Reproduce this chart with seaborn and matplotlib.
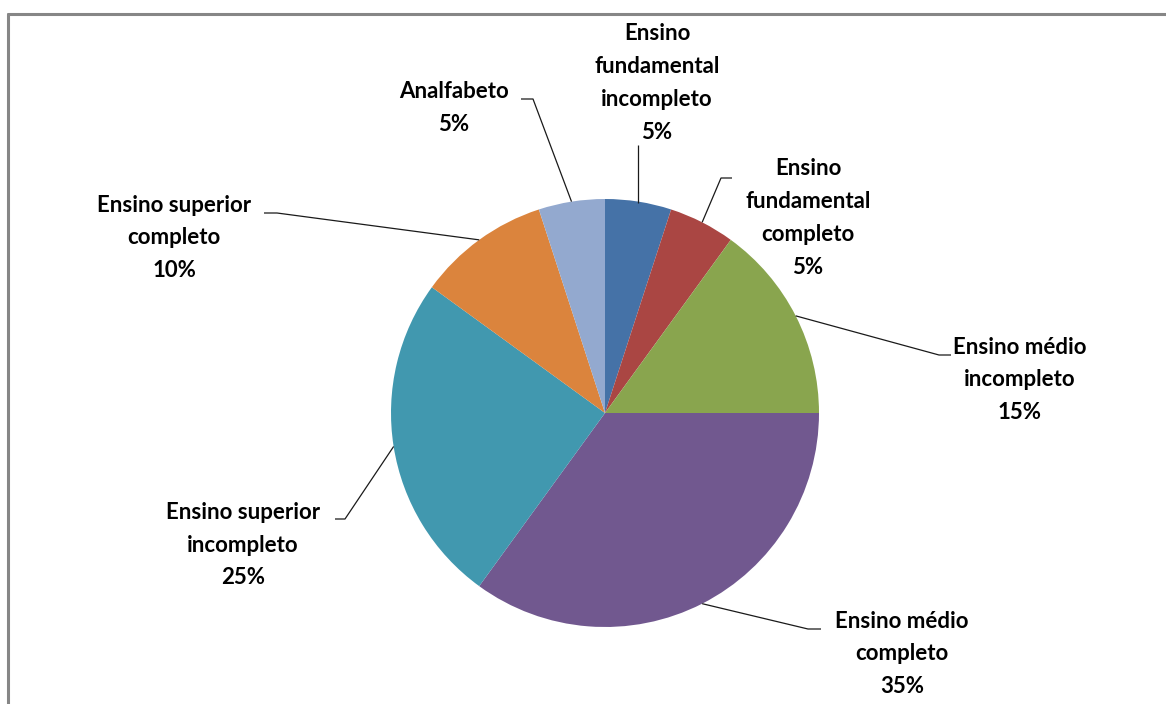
import numpy as np
import matplotlib
matplotlib.use("Agg")
import matplotlib.pyplot as plt
from matplotlib.lines import Line2D
import seaborn as sns

# Escolaridade dos entrevistados
categorias = [
    "Ensino\nfundamental\nincompleto",
    "Ensino\nfundamental\ncompleto",
    "Ensino médio\nincompleto",
    "Ensino médio\ncompleto",
    "Ensino superior\nincompleto",
    "Ensino superior\ncompleto",
    "Analfabeto",
]
percentuais = [5, 5, 15, 35, 25, 10, 5]
cores = ["#4572A7", "#AA4643", "#89A54E", "#71588F", "#4198AF", "#DB843D", "#93A9CF"]

# label centre (px) and elbow of the leader line (start, end of short horizontal tick)
rotulo_pos = [(657, 83), (808, 218), (1020, 380), (902, 654), (243, 545), (174, 238), (454, 108)]
cotovelo = [None, ((732, 178), (721, 178)), ((951, 355), (939, 355)),
            ((821, 629), (808, 629)), ((335, 519), (345, 519)),
            ((264, 213), (277, 213)), ((521, 99), (533, 99))]
linha_vertical_x = 638  # first slice uses a straight vertical leader

sns.set_theme(style="white")
plt.rcParams["font.family"] = ["Lato", "DejaVu Sans"]

W, H = 1166, 704
fig = plt.figure(figsize=(W / 100, H / 100), dpi=100)
ax = fig.add_axes([0, 0, 1, 1])

cx, cy, r = 605, H - 413, 214
ax.pie(percentuais, colors=cores, startangle=90, counterclock=False,
       center=(cx, cy), radius=r, wedgeprops=dict(linewidth=0), frame=True)
ax.set_xlim(0, W)
ax.set_ylim(0, H)
ax.set_aspect("equal")
ax.axis("off")

# leader lines and labels
acum = np.cumsum([0] + percentuais)
total = sum(percentuais)
for i, (cat, val) in enumerate(zip(categorias, percentuais)):
    meio = (acum[i] + val / 2) / total
    ang = np.pi / 2 - 2 * np.pi * meio
    bx, by = cx + r * np.cos(ang), cy + r * np.sin(ang)
    if cotovelo[i] is None:
        xs = [linha_vertical_x, linha_vertical_x]
        ys = [H - 145, cy + r * np.cos(np.arcsin((linha_vertical_x - cx) / r)) - 1]
    else:
        (x0, y0), (x1, y1) = cotovelo[i]
        xs = [x0, x1, bx]
        ys = [H - y0, H - y1, by]
    ax.plot(xs, ys, color="#1a1a1a", lw=0.9, solid_capstyle="butt")
    tx, ty = rotulo_pos[i]
    ax.text(tx, H - ty, f"{cat}\n{val}%", ha="center", va="center",
            fontsize=16, fontweight="bold", color="#000000", linespacing=1.7)

# chart area frame (left and top edges)
fig.add_artist(Line2D([8 / W, 8 / W], [0, 1 - 14 / H], transform=fig.transFigure,
                      color="#868686", lw=2.2))
fig.add_artist(Line2D([8 / W, 1], [1 - 14 / H, 1 - 14 / H], transform=fig.transFigure,
                      color="#868686", lw=2.2))

fig.savefig("out.png", dpi=100, facecolor="white")
